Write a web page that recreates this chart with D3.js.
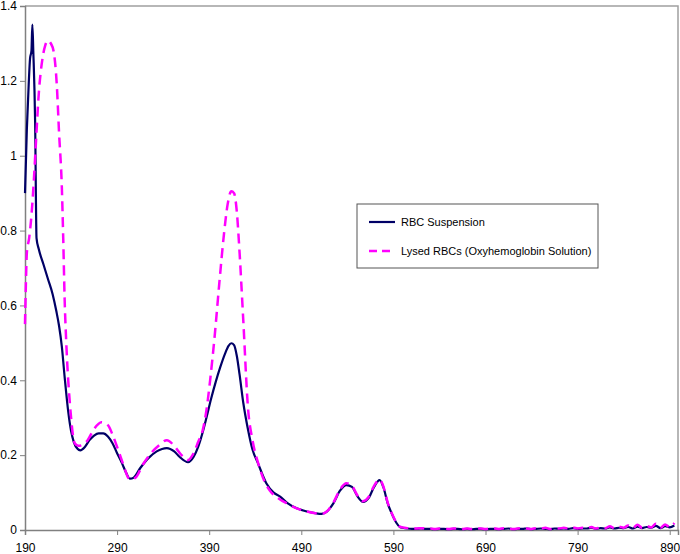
<!DOCTYPE html>
<html>
<head>
<meta charset="utf-8">
<script src="https://cdn.jsdelivr.net/npm/d3@7"></script>
<style>
  body { margin: 0; background: #fff; }
  svg { display: block; font-family: "Liberation Sans", Arial, sans-serif; }
</style>
</head>
<body>
<div id="chart"></div>
<script>
// Espectros de absorción
const rbcWl = [190, 192, 194, 195.5, 197, 198, 199, 201, 202.5, 205, 210, 215, 220, 224, 227, 230, 233, 237, 240, 243, 247, 250, 255, 260, 265, 270, 275, 280, 285, 290, 295, 300, 304, 308, 315, 324, 333, 344, 352, 358, 367, 373, 378, 383, 387, 392, 397, 402, 407, 411, 414, 417, 420, 423, 427, 432, 437, 443, 452, 460, 467, 475, 485, 495, 505, 512, 518, 525, 532, 539, 545, 551, 557, 563, 569, 575, 579, 584, 588, 593, 597];
const rbcAbs = [0.90, 1.07, 1.19, 1.26, 1.28, 1.35, 1.28, 1.09, 0.78, 0.75, 0.71, 0.67, 0.63, 0.585, 0.545, 0.49, 0.41, 0.315, 0.265, 0.235, 0.217, 0.213, 0.222, 0.24, 0.252, 0.258, 0.258, 0.25, 0.232, 0.205, 0.18, 0.152, 0.137, 0.14, 0.165, 0.192, 0.21, 0.219, 0.21, 0.195, 0.181, 0.195, 0.222, 0.262, 0.30, 0.35, 0.395, 0.435, 0.47, 0.492, 0.499, 0.494, 0.465, 0.415, 0.34, 0.27, 0.215, 0.178, 0.125, 0.10, 0.089, 0.072, 0.058, 0.05, 0.045, 0.043, 0.05, 0.072, 0.105, 0.12, 0.115, 0.09, 0.075, 0.085, 0.115, 0.133, 0.115, 0.07, 0.045, 0.02, 0.008];

const lysedWl = [190, 191, 192, 194.5, 197, 199, 202, 204.5, 209, 212, 215, 218, 221, 224.5, 227, 230, 231.5, 233, 235, 239, 244, 248, 252, 258, 265, 273, 280, 285, 290, 296, 304, 310, 318, 325, 335, 344, 352, 360, 367, 373, 378, 383, 387, 391, 396, 401, 406, 410, 414, 417, 420, 423, 427, 432, 437, 443, 450, 456, 465, 475, 485, 495, 505, 512, 518, 525, 532, 539, 545, 551, 557, 563, 569, 575, 579, 584, 588, 593, 597];
const lysedAbs = [0.55, 0.66, 0.74, 0.78, 0.84, 0.91, 1.04, 1.15, 1.26, 1.295, 1.307, 1.30, 1.28, 1.19, 1.06, 0.915, 0.78, 0.62, 0.49, 0.33, 0.232, 0.225, 0.227, 0.24, 0.27, 0.288, 0.28, 0.255, 0.222, 0.18, 0.135, 0.14, 0.175, 0.20, 0.225, 0.24, 0.225, 0.20, 0.187, 0.205, 0.235, 0.267, 0.32, 0.40, 0.52, 0.66, 0.79, 0.87, 0.905, 0.90, 0.85, 0.74, 0.56, 0.33, 0.24, 0.18, 0.13, 0.105, 0.085, 0.07, 0.058, 0.05, 0.045, 0.043, 0.05, 0.074, 0.108, 0.125, 0.118, 0.092, 0.077, 0.088, 0.118, 0.135, 0.117, 0.072, 0.046, 0.021, 0.009];

// Línea base de 600 a 895 nm (cada 5 nm)
const tailWl = d3.range(600, 900, 5);
const rbcTail = [0.006, 0.004, 0.003, 0.003, 0.004, 0.003, 0.003, 0.002, 0.003, 0.003,
  0.002, 0.003, 0.003, 0.002, 0.003, 0.002, 0.003, 0.003, 0.002, 0.003,
  0.003, 0.002, 0.003, 0.004, 0.002, 0.003, 0.003, 0.004, 0.002, 0.003,
  0.004, 0.003, 0.002, 0.004, 0.003, 0.004, 0.003, 0.005, 0.003, 0.004,
  0.004, 0.006, 0.003, 0.005, 0.004, 0.007, 0.004, 0.006, 0.005, 0.008,
  0.004, 0.009, 0.005, 0.008, 0.006, 0.011, 0.005, 0.010, 0.007, 0.012];
const lysedTail = [0.007, 0.005, 0.004, 0.004, 0.005, 0.004, 0.004, 0.003, 0.004, 0.004,
  0.003, 0.004, 0.004, 0.003, 0.004, 0.003, 0.004, 0.004, 0.003, 0.004,
  0.004, 0.003, 0.005, 0.004, 0.003, 0.004, 0.005, 0.004, 0.003, 0.005,
  0.004, 0.006, 0.003, 0.005, 0.004, 0.006, 0.004, 0.007, 0.004, 0.006,
  0.005, 0.008, 0.004, 0.007, 0.005, 0.010, 0.005, 0.009, 0.006, 0.012,
  0.005, 0.014, 0.006, 0.011, 0.007, 0.017, 0.006, 0.015, 0.008, 0.019];

const xTicks = [190, 290, 390, 490, 590, 690, 790, 890];
const yTicks = [0, 0.2, 0.4, 0.6, 0.8, 1, 1.2, 1.4];
const seriesNames = ["RBC Suspension", "Lysed RBCs (Oxyhemoglobin Solution)"];

const width = 680, height = 554;
const margin = { top: 6, right: 2, bottom: 24, left: 25 };

const svg = d3.select("#chart").append("svg")
  .attr("width", width)
  .attr("height", height);

const x = d3.scaleLinear().domain([190, 899]).range([margin.left, width - margin.right]);
const y = d3.scaleLinear().domain([0, 1.4]).range([height - margin.bottom, margin.top]);

// Borde del área de trazado (arriba y derecha)
svg.append("path")
  .attr("d", `M${x(190)},${y(1.4)}H${x(899)}V${y(0)}`)
  .attr("fill", "none")
  .attr("stroke", "#a0a0a0")
  .attr("stroke-width", 1.5);

// Ejes
const axisX = svg.append("g")
  .attr("transform", `translate(0,${y(0)})`)
  .call(d3.axisBottom(x).tickValues(xTicks).tickSize(5).tickPadding(8).tickFormat(d3.format("d")));
const axisY = svg.append("g")
  .attr("transform", `translate(${x(190)},0)`)
  .call(d3.axisLeft(y).tickValues(yTicks).tickSize(5).tickPadding(3).tickFormat(d => d3.format("")(+d.toFixed(1))));

[axisX, axisY].forEach(g => {
  g.select(".domain").attr("stroke", "#808080").attr("stroke-width", 1.5);
  g.selectAll(".tick line").attr("stroke", "#808080");
  g.selectAll("text").attr("fill", "#000").attr("font-size", "12px")
    .attr("font-family", "'Liberation Sans', Arial, sans-serif");
});

const line = d3.line()
  .x(d => x(d[0]))
  .y(d => y(d[1]))
  .curve(d3.curveMonotoneX);

const rbcData = rbcWl.map((w, i) => [w, rbcAbs[i]]).concat(tailWl.map((w, i) => [w, rbcTail[i]]));
const lysedData = lysedWl.map((w, i) => [w, lysedAbs[i]]).concat(tailWl.map((w, i) => [w, lysedTail[i]]));

svg.append("path")
  .datum(rbcData)
  .attr("fill", "none")
  .attr("stroke", "#000066")
  .attr("stroke-width", 2.2)
  .attr("d", line);

svg.append("path")
  .datum(lysedData)
  .attr("fill", "none")
  .attr("stroke", "#ff00ff")
  .attr("stroke-width", 2.5)
  .attr("stroke-dasharray", "10,6")
  .attr("d", line);

// Leyenda
const legend = svg.append("g").attr("transform", "translate(357,204)");
legend.append("rect")
  .attr("width", 241)
  .attr("height", 64)
  .attr("fill", "#fff")
  .attr("stroke", "#555")
  .attr("stroke-width", 1);

const legendStyles = [
  { color: "#000066", dash: null, w: 2.2 },
  { color: "#ff00ff", dash: "8,5", w: 2.5 }
];

seriesNames.forEach((name, i) => {
  const yy = 18 + i * 29;
  legend.append("line")
    .attr("x1", 12).attr("x2", 38)
    .attr("y1", yy).attr("y2", yy)
    .attr("stroke", legendStyles[i].color)
    .attr("stroke-width", legendStyles[i].w)
    .attr("stroke-dasharray", legendStyles[i].dash);
  legend.append("text")
    .attr("x", 44)
    .attr("y", yy + 4)
    .attr("font-size", "11px")
    .attr("fill", "#000")
    .text(name);
});
</script>
</body>
</html>
